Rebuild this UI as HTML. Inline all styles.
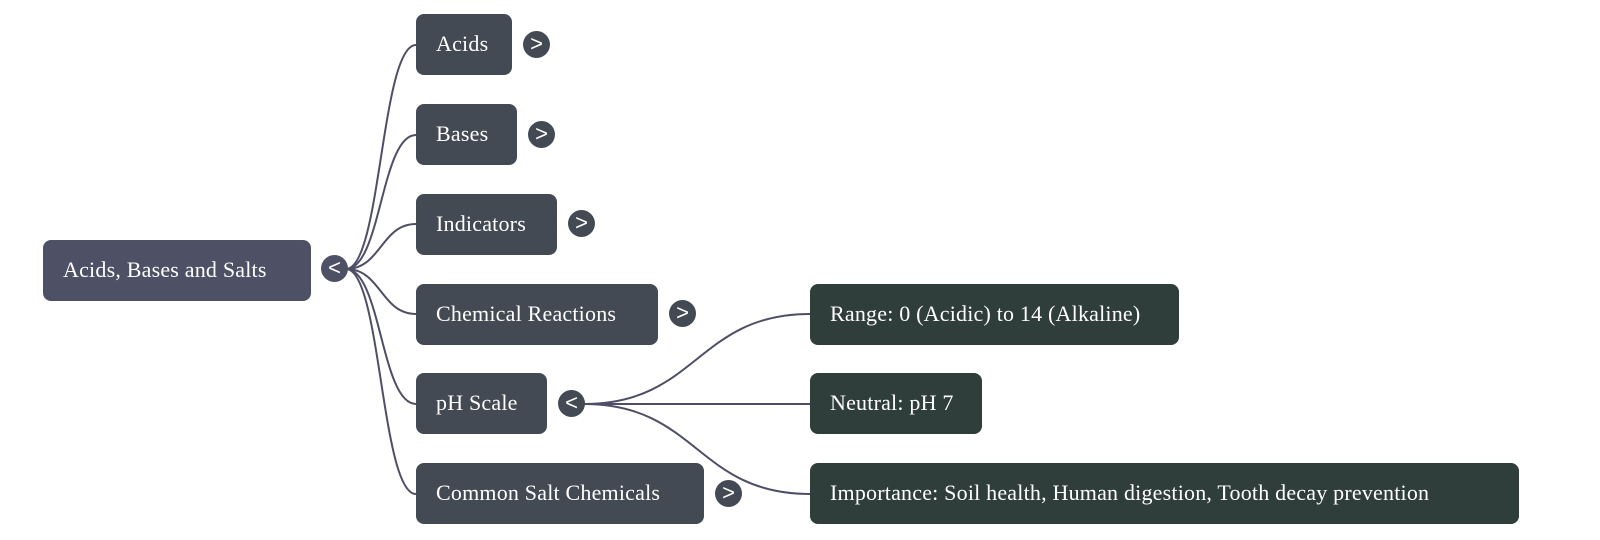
<!DOCTYPE html>
<html><head><style>
body{margin:0;width:1600px;height:540px;background:#fff;position:relative;font-family:"Liberation Serif",serif;overflow:hidden}
.n{position:absolute;height:61px;line-height:59px;color:#fff;font-size:22px;border-radius:8px;padding-left:20px;box-sizing:border-box;background:#434a54;white-space:nowrap;letter-spacing:0.2px}
.r{background:#4e5166}
.g{background:#2f3e3b}
.b{position:absolute;width:27px;height:27px;border-radius:50%;background:#434a54;color:#fff;font:22px "Liberation Sans",sans-serif;text-align:center;line-height:26px}
svg{position:absolute;left:0;top:0}
</style></head><body>
<svg width="1600" height="540" fill="none" stroke="#4e4f66" stroke-width="2">
<path d="M346 269 C381 269 381 45 416 45"/>
<path d="M346 269 C381 269 381 135 416 135"/>
<path d="M346 269 C381 269 381 224 416 224"/>
<path d="M346 269 C381 269 381 314 416 314"/>
<path d="M346 269 C381 269 381 404 416 404"/>
<path d="M346 269 C381 269 381 494 416 494"/>
<path d="M584 404 C697 404 697 314 810 314"/>
<path d="M584 404 L810 404"/>
<path d="M584 404 C697 404 697 494 810 494"/>
</svg>
<div class="n r" style="left:43px;top:240px;width:268px">Acids, Bases and Salts</div>
<div class="b" style="left:321px;top:255px;background:#4e5166">&lt;</div>
<div class="n" style="left:416px;top:14px;width:96px">Acids</div>
<div class="b" style="left:523px;top:31px">&gt;</div>
<div class="n" style="left:416px;top:104px;width:101px">Bases</div>
<div class="b" style="left:528px;top:121px">&gt;</div>
<div class="n" style="left:416px;top:194px;width:141px">Indicators</div>
<div class="b" style="left:568px;top:210px">&gt;</div>
<div class="n" style="left:416px;top:284px;width:242px">Chemical Reactions</div>
<div class="b" style="left:669px;top:300px">&gt;</div>
<div class="n" style="left:416px;top:373px;width:131px">pH Scale</div>
<div class="b" style="left:558px;top:390px">&lt;</div>
<div class="n" style="left:416px;top:463px;width:288px">Common Salt Chemicals</div>
<div class="b" style="left:715px;top:480px">&gt;</div>
<div class="n g" style="left:810px;top:284px;width:369px">Range: 0 (Acidic) to 14 (Alkaline)</div>
<div class="n g" style="left:810px;top:373px;width:172px">Neutral: pH 7</div>
<div class="n g" style="left:810px;top:463px;width:709px">Importance: Soil health, Human digestion, Tooth decay prevention</div>
</body></html>
